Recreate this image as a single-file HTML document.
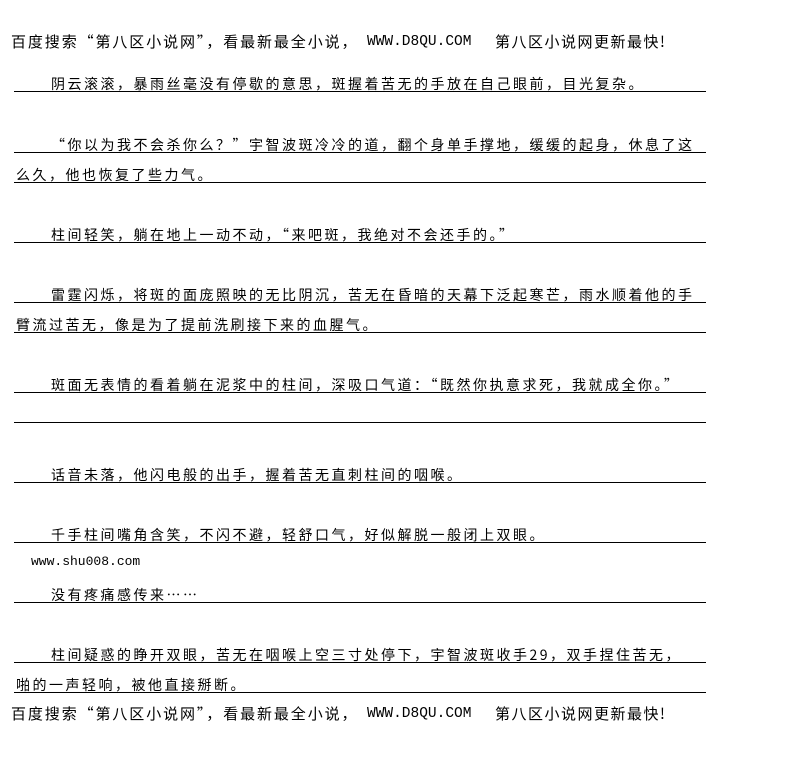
<!DOCTYPE html>
<html><head><meta charset="utf-8"><style>
body{margin:0;background:#fff;width:802px;height:757px;position:relative;overflow:hidden;font-family:"Noto Sans CJK SC","Liberation Sans",sans-serif;color:#000}
.h{position:absolute;font-size:15px;white-space:nowrap;line-height:18px}
.m{position:absolute;font-family:"Liberation Mono",monospace;font-size:14.5px;white-space:nowrap;line-height:18px}
.t{position:absolute;font-size:14px;letter-spacing:2.5px;white-space:nowrap;line-height:16px;color:#000}
.l{position:absolute;left:14px;width:692px;height:1px;background:#000}
</style></head><body>
<div class="h" style="left:11px;top:33px;letter-spacing:1.9px">百度搜索“第八区小说网”，看最新最全小说，</div>
<div class="m" style="left:367px;top:33px">WWW.D8QU.COM</div>
<div class="h" style="left:495px;top:33px;letter-spacing:1.5px">第八区小说网更新最快!</div>

<div class="t" style="left:51px;top:76px">阴云滚滚，暴雨丝毫没有停歇的意思，斑握着苦无的手放在自己眼前，目光复杂。</div>
<div class="l" style="top:91px"></div>
<div class="t" style="left:51px;top:137px">“你以为我不会杀你么？”宇智波斑冷冷的道，翻个身单手撑地，缓缓的起身，休息了这</div>
<div class="l" style="top:152px"></div>
<div class="t" style="left:16px;top:167px">么久，他也恢复了些力气。</div>
<div class="l" style="top:182px"></div>
<div class="t" style="left:51px;top:227px">柱间轻笑，躺在地上一动不动，“来吧斑，我绝对不会还手的。”</div>
<div class="l" style="top:242px"></div>
<div class="t" style="left:51px;top:287px">雷霆闪烁，将斑的面庞照映的无比阴沉，苦无在昏暗的天幕下泛起寒芒，雨水顺着他的手</div>
<div class="l" style="top:302px"></div>
<div class="t" style="left:16px;top:317px">臂流过苦无，像是为了提前洗刷接下来的血腥气。</div>
<div class="l" style="top:332px"></div>
<div class="t" style="left:51px;top:377px">斑面无表情的看着躺在泥浆中的柱间，深吸口气道：“既然你执意求死，我就成全你。”</div>
<div class="l" style="top:392px"></div>
<div class="l" style="top:422px"></div>
<div class="t" style="left:51px;top:467px">话音未落，他闪电般的出手，握着苦无直刺柱间的咽喉。</div>
<div class="l" style="top:482px"></div>
<div class="t" style="left:51px;top:527px">千手柱间嘴角含笑，不闪不避，轻舒口气，好似解脱一般闭上双眼。</div>
<div class="l" style="top:542px"></div>
<div class="m" style="left:31px;top:553px;font-size:13px">www.shu008.com</div>
<div class="t" style="left:51px;top:587px">没有疼痛感传来……</div>
<div class="l" style="top:602px"></div>
<div class="t" style="left:51px;top:647px">柱间疑惑的睁开双眼，苦无在咽喉上空三寸处停下，宇智波斑收手29，双手捏住苦无，</div>
<div class="l" style="top:662px"></div>
<div class="t" style="left:16px;top:677px">啪的一声轻响，被他直接掰断。</div>
<div class="l" style="top:692px"></div>

<div class="h" style="left:11px;top:705px;letter-spacing:1.9px">百度搜索“第八区小说网”，看最新最全小说，</div>
<div class="m" style="left:367px;top:705px">WWW.D8QU.COM</div>
<div class="h" style="left:495px;top:705px;letter-spacing:1.5px">第八区小说网更新最快!</div>
</body></html>
